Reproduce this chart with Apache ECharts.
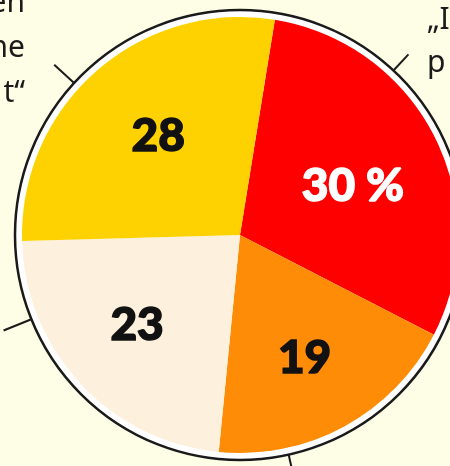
<!DOCTYPE html>
<html>
<head>
<meta charset="utf-8">
<script src="https://cdn.jsdelivr.net/npm/echarts@6/dist/echarts.min.js"></script>
<style>
html,body{margin:0;padding:0;background:#fefde6;}
#chart{width:450px;height:466px;}
</style>
</head>
<body>
<div id="chart"></div>
<script>
// Data
const categories = ['rot', 'orange', 'hell', 'gelb'];
const values = [30, 19, 23, 28];
const valueLabels = ['30 %', '19', '23', '28'];
// Partially visible outer annotation texts
const leftNoteLines = ['en', 'ne', 't\u201C'];
const rightNoteLines = ['\u201EI', 'p'];

// Styles / layout
const colors = ['#fe0000', '#fe8c06', '#fdf0dc', '#fed200'];
const labelColors = ['#ffffff', '#111111', '#111111', '#111111'];
const labelOffsets = [[13, 2], [11, 25], [-21, 14], [-8, -15]];
const CX = 240, CY = 235, R_FILL = 218, R_RING = 225;
const tickAngles = [312.5, 43, 248, 167.5];   // clockwise from top
const tickLengths = [27, 22, 30, 22];

const chart = echarts.init(document.getElementById('chart'));

const ticks = tickAngles.map((a, i) => {
  const rad = a * Math.PI / 180;
  const r1 = R_RING, r2 = R_RING + tickLengths[i];
  return {
    type: 'line',
    silent: true,
    shape: {
      x1: CX + r1 * Math.sin(rad), y1: CY - r1 * Math.cos(rad),
      x2: CX + r2 * Math.sin(rad), y2: CY - r2 * Math.cos(rad)
    },
    style: { stroke: '#1a1a1a', lineWidth: 2 }
  };
});

const noteFont = '30px "Noto Sans", sans-serif';
const leftNotes = leftNoteLines.map((t, i) => ({
  type: 'text', silent: true,
  style: { text: t, x: 25, y: 3 + i * 45, align: 'right', verticalAlign: 'middle', font: noteFont, fill: '#1a1a1a' }
}));
const rightNotes = rightNoteLines.map((t, i) => ({
  type: 'text', silent: true,
  style: { text: t, x: 427, y: 20 + i * 43, align: 'left', verticalAlign: 'middle', font: noteFont, fill: '#1a1a1a' }
}));

chart.setOption({
  backgroundColor: '#fefde6',
  animation: false,
  graphic: [...ticks, ...leftNotes, ...rightNotes],
  series: [
    {
      type: 'pie',
      silent: true,
      z: 1,
      center: [CX, CY],
      radius: [0, R_RING],
      label: { show: false },
      labelLine: { show: false },
      itemStyle: { color: '#ffffff', borderColor: '#1a1a1a', borderWidth: 2.5 },
      emphasis: { disabled: true },
      data: [{ value: 1, name: 'ring' }]
    },
    {
      type: 'pie',
      silent: true,
      z: 2,
      center: [CX, CY],
      radius: [0, R_FILL],
      startAngle: 80.8,
      clockwise: true,
      emphasis: { disabled: true },
      labelLine: { show: false },
      data: categories.map((c, i) => ({
        name: c,
        value: values[i],
        itemStyle: { color: colors[i] },
        label: {
          show: true,
          position: 'inside',
          formatter: valueLabels[i],
          color: labelColors[i],
          offset: labelOffsets[i],
          fontFamily: 'Lato, sans-serif',
          fontWeight: 900,
          fontSize: 46,
          textBorderColor: labelColors[i],
          textBorderWidth: 1.5
        }
      }))
    }
  ]
});
</script>
</body>
</html>
